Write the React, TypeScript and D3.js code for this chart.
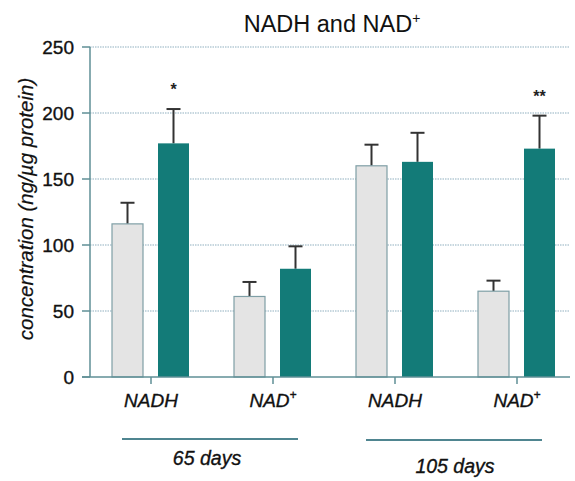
import * as d3 from "d3";

const groups = ["NADH", "NAD+", "NADH", "NAD+"];
const controlValues = [116, 61, 160, 65];
const controlErrors = [132, 72, 176, 73];
const treatedValues = [177, 82, 163, 173];
const treatedErrors = [203, 99, 185, 198];
const significance = ["*", "", "", "**"];
const yTicks = [0, 50, 100, 150, 200, 250];
const periods = [
  { label: "65 days", from: 0, to: 1 },
  { label: "105 days", from: 2, to: 3 },
];

const W = 575;
const H = 481;
const margin = { top: 47, right: -3, bottom: 104, left: 90 };
const axisColor = "#5f8f96";
const teal = "#137b78";
const grayFill = "#e4e4e4";
// slight outline so the text reads as heavy as in the scanned figure
const heavy = { stroke: "#111", strokeWidth: 0.35 };

export default function App() {
  const x = d3
    .scaleBand<number>()
    .domain(groups.map((_, i) => i))
    .range([margin.left, W - margin.right])
    .padding(0);
  const y = d3.scaleLinear().domain([0, 250]).range([H - margin.bottom, margin.top]);
  const bw = 31;
  const y0 = y(0);

  const label = (g: string) =>
    g.endsWith("+") ? (
      <>
        {g.slice(0, -1)}
        <tspan fontSize={12} dy={-8}>+</tspan>
      </>
    ) : (
      g
    );

  return (
    <svg
      width={W}
      height={H}
      style={{ position: "absolute", left: 0, top: 0, background: "#fff" }}
      fontFamily="Liberation Sans, Arial, sans-serif"
    >
      <text x={332} y={32} textAnchor="middle" fontSize={23.5} fill="#111">
        NADH and NAD
        <tspan fontSize={14} dy={-9}>+</tspan>
      </text>

      {/* grid */}
      {yTicks.slice(1).map((t) => (
        <line
          key={t}
          x1={margin.left}
          x2={W - 5}
          y1={y(t)}
          y2={y(t)}
          stroke="#8fb0c0"
          strokeWidth={1.2}
          strokeDasharray="1.5 1"
        />
      ))}

      {/* y axis */}
      <line x1={margin.left} x2={margin.left} y1={margin.top} y2={y0} stroke={axisColor} strokeWidth={1.5} />
      {yTicks.map((t) => (
        <g key={t}>
          <line x1={margin.left - 8} x2={margin.left} y1={y(t)} y2={y(t)} stroke={axisColor} strokeWidth={1.5} />
          <text
            x={margin.left - 16}
            y={y(t)}
            dy="0.36em"
            textAnchor="end"
            fontSize={19}
            fill="#111"
            {...heavy}
          >
            {t}
          </text>
        </g>
      ))}
      <text
        transform={`translate(33,${(margin.top + y0) / 2 - 3}) rotate(-90)`}
        textAnchor="middle"
        fontSize={20.5}
        fontStyle="italic"
        fill="#111"
        {...heavy}
        strokeWidth={0.2}
      >
        concentration (ng/µg protein)
      </text>

      {/* bars */}
      {groups.map((g, i) => {
        const cx = (x(i) as number) + x.bandwidth() / 2;
        const gx = cx - 39;
        const tx = cx + 7;
        return (
          <g key={i}>
            <line x1={gx + bw / 2} x2={gx + bw / 2} y1={y(controlValues[i])} y2={y(controlErrors[i])} stroke="#333" strokeWidth={2} />
            <line x1={gx + bw / 2 - 7} x2={gx + bw / 2 + 7} y1={y(controlErrors[i])} y2={y(controlErrors[i])} stroke="#333" strokeWidth={2} />
            <rect
              x={gx}
              y={y(controlValues[i])}
              width={bw}
              height={y0 - y(controlValues[i])}
              fill={grayFill}
              stroke="#7f9fa6"
              strokeWidth={1.2}
            />
            <line x1={tx + bw / 2} x2={tx + bw / 2} y1={y(treatedValues[i])} y2={y(treatedErrors[i])} stroke="#333" strokeWidth={2} />
            <line x1={tx + bw / 2 - 7} x2={tx + bw / 2 + 7} y1={y(treatedErrors[i])} y2={y(treatedErrors[i])} stroke="#333" strokeWidth={2} />
            <rect x={tx} y={y(treatedValues[i])} width={bw} height={y0 - y(treatedValues[i])} fill={teal} />
            {significance[i] && (
              <text x={tx + bw / 2} y={y(treatedErrors[i]) - 14} textAnchor="middle" fontSize={16} fontWeight="bold" fill="#222">
                {significance[i]}
              </text>
            )}
            <line x1={cx} x2={cx} y1={y0} y2={y0 + 7} stroke={axisColor} strokeWidth={1.5} />
            <text x={cx} y={407} textAnchor="middle" fontSize={19} fontStyle="italic" fill="#111" {...heavy}>
              {label(g)}
            </text>
          </g>
        );
      })}

      {/* x axis */}
      <line x1={margin.left - 8} x2={W - 5} y1={y0} y2={y0} stroke={axisColor} strokeWidth={1.5} />

      {/* period brackets */}
      {periods.map((p, k) => {
        const a = (x(p.from) as number) + x.bandwidth() / 2 - 29;
        const b = (x(p.to) as number) + x.bandwidth() / 2 + 25;
        return (
          <g key={p.label}>
            <line x1={a} x2={b} y1={439 + k} y2={439 + k} stroke="#4f8590" strokeWidth={2} />
            <text x={(a + b) / 2 - 3 + k * 4} y={465 + k * 8} textAnchor="middle" fontSize={19.5} fontStyle="italic" fill="#111" {...heavy}>
              {p.label}
            </text>
          </g>
        );
      })}
    </svg>
  );
}
